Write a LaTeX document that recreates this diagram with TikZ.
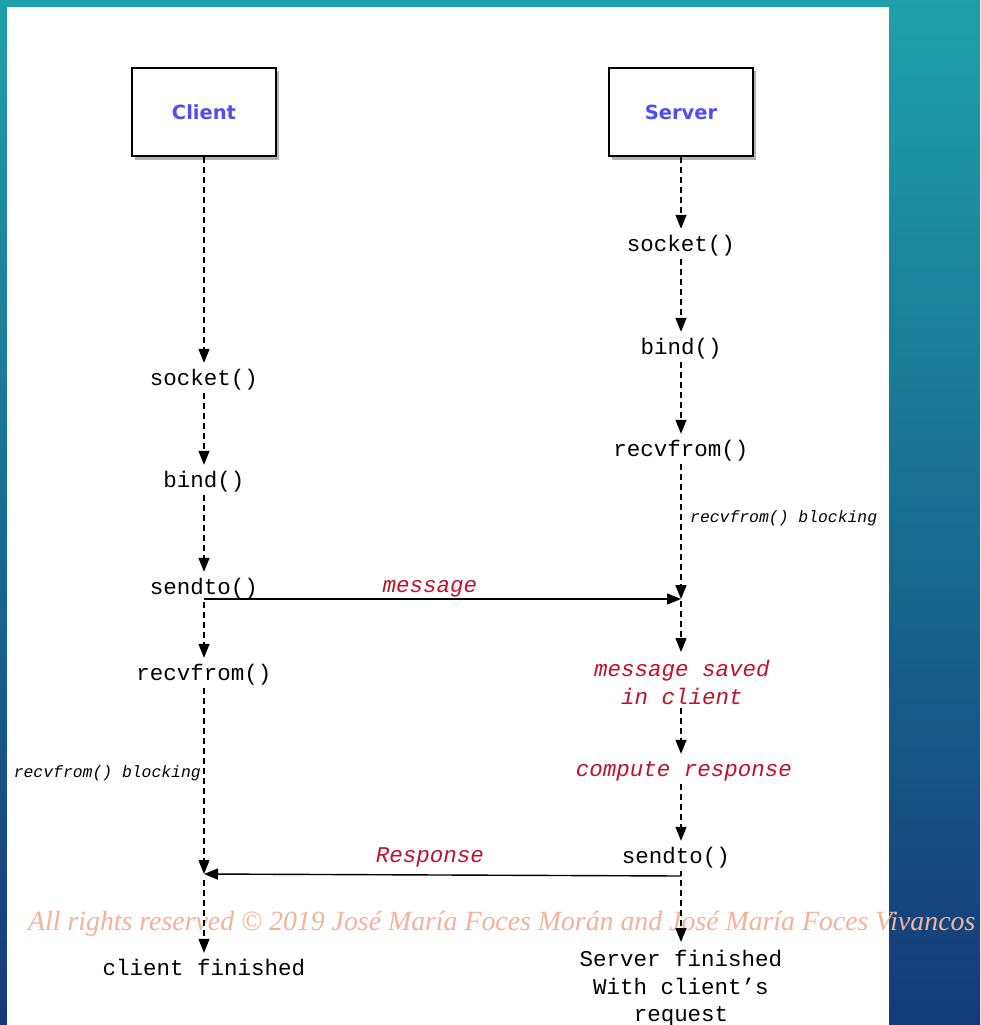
\documentclass[tikz,border=0pt]{standalone}
\usepackage{fontspec}
\usepackage{graphicx}
\setmainfont{Liberation Serif}
\newfontfamily\monof{Liberation Mono}
\newfontfamily\boxf{DejaVu Sans}
\usetikzlibrary{arrows.meta,shadows}
\definecolor{bgtop}{RGB}{31,160,172}
\definecolor{bgmid}{RGB}{26,118,160}
\definecolor{bgbot}{RGB}{20,58,120}
\definecolor{lblblue}{RGB}{78,78,246}
\definecolor{msgred}{RGB}{192,18,44}
\definecolor{wmark}{RGB}{246,178,152}
\begin{document}
\begin{tikzpicture}[x=1pt,y=-1pt,
  lifebox/.style={draw=black, line width=1.3pt, fill=white, minimum width=144pt, minimum height=88pt, inner sep=0pt,
    font=\boxf\bfseries\fontsize{19.5}{22}\selectfont, text=lblblue,
    drop shadow={shadow xshift=2.5pt, shadow yshift=-3.5pt, opacity=0.6}},
  call/.style={font=\monof\fontsize{22.5}{28}\selectfont, inner sep=3pt, text height=14pt, text depth=4.5pt, anchor=base},
  callm/.style={font=\monof\fontsize{22.5}{27.5}\selectfont, inner sep=3pt, align=center, anchor=north},
  redt/.style={text=msgred, font=\monof\itshape\fontsize{22.5}{28}\selectfont},
  note/.style={font=\monof\itshape\fontsize{16.4}{20}\selectfont, inner sep=0pt},
  dasharr/.style={draw=black, line width=1.3pt, dash pattern=on 6pt off 4pt, -{Triangle[length=14pt,width=11pt]}, shorten >=5pt},
  dashline/.style={draw=black, line width=1.3pt, dash pattern=on 6pt off 4pt},
  msgarr/.style={draw=black, line width=1.4pt, -{Triangle[length=14pt,width=11pt]}},
]
\useasboundingbox (0,0) rectangle (980,1025);
\path[top color=bgtop, middle color=bgmid, bottom color=bgbot] (0,0) rectangle (980,1025);
\fill[white] (7,7) rectangle (889,1026);

% watermark
\node[anchor=base west, inner sep=0pt, text=wmark] (wm) at (28,930)
  {\resizebox{947pt}{!}{\itshape All rights reserved © 2019 José María Foces Morán and José María Foces Vivancos}};

% lifeline heads
\node[lifebox] (cbox) at (204,112) {Client};
\node[lifebox] (sbox) at (681,112) {Server};

% client column
\node[call] (csock) at (204,385) {socket()};
\node[call] (cbind) at (204,487) {bind()};
\node[call] (csend) at (204,594) {sendto()};
\node[call] (crecv) at (204,680) {recvfrom()};
\coordinate (cmsg) at (204,599);
\coordinate (cresp) at (204,874);
\node[call] (cfin) at (204,975) {client finished};

% server column
\node[call] (ssock) at (681,251) {socket()};
\node[call] (sbind) at (681,354) {bind()};
\node[call] (srecv) at (681,456) {recvfrom()};
\coordinate (smsg) at (681,599);
\node[callm, redt] (ssaved) at (682,657) {message saved\\in client};
\node[call, redt] (scomp) at (684,776) {compute response};
\node[call] (ssend) at (676,863) {sendto()};
\coordinate (sresp) at (681,876);
\node[callm] (sfin) at (681,947) {Server finished\\With client’s\\request};

% notes and message labels
\node[note, anchor=base west] (snote) at (690,522) {recvfrom() blocking};
\node[note, anchor=base east] (cnote) at (201,777) {recvfrom() blocking};
\node[redt, anchor=base] (lmsg) at (430,592) {message};
\node[redt, anchor=base] (lresp) at (430,862) {Response};

% client lifeline
\draw[dasharr] (cbox.south) -- (csock.north);
\draw[dasharr] (csock.south) -- (cbind.north);
\draw[dasharr] (cbind.south) -- (csend.north);
\draw[dasharr] (csend.south) -- (crecv.north);
\draw[dasharr, shorten >=0pt] (crecv.south) -- (cresp);
\draw[dasharr, shorten <=6pt] (cresp) -- (cfin.north);

% server lifeline
\draw[dasharr] (sbox.south) -- (ssock.north);
\draw[dasharr] (ssock.south) -- (sbind.north);
\draw[dasharr] (sbind.south) -- (srecv.north);
\draw[dasharr, shorten >=0pt] (srecv.south) -- (smsg);
\draw[dasharr, shorten <=2pt] (smsg) -- (smsg |- ssaved.north);
\draw[dasharr] (smsg |- ssaved.south) -- (smsg |- scomp.north);
\draw[dasharr] (smsg |- scomp.south) -- (smsg |- ssend.north);
\draw[dashline] (smsg |- ssend.south) -- (sresp);
\draw[dasharr, shorten <=4pt] (sresp) -- (sfin.north);

% messages
\draw[msgarr] (cmsg) -- (smsg);
\draw[msgarr] (sresp) -- (cresp);
\end{tikzpicture}
\end{document}
